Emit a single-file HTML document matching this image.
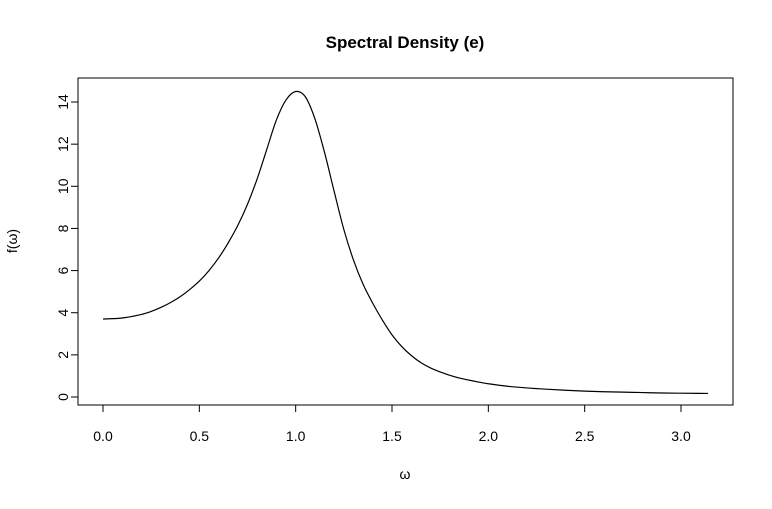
<!DOCTYPE html>
<html><head><meta charset="utf-8"><style>
html,body{margin:0;padding:0;background:#fff;}
svg text{font-family:"Liberation Sans",Arial,sans-serif;fill:#000;}
</style></head><body>
<svg id="chart" width="772" height="504" viewBox="0 0 772 504" xmlns="http://www.w3.org/2000/svg">
<rect width="772" height="504" fill="#fff"/>
<text x="405" y="48" text-anchor="middle" font-size="17" font-weight="bold">Spectral Density (e)</text>
<rect x="78" y="78" width="655" height="327" fill="none" stroke="#000" stroke-width="1"/>
<g id="xaxis"></g>
<g id="yaxis"></g>
<text x="405" y="479" text-anchor="middle" font-size="14" font-family="Liberation Serif,serif">ω</text>
<text transform="translate(17,241) rotate(-90)" text-anchor="middle" font-size="14">f(ω)</text>
<path id="curve" fill="none" stroke="#000" stroke-width="1.2"/>
</svg>
<script>
const omega = [0,0.1,0.2,0.25,0.3,0.35,0.4,0.45,0.5,0.55,0.6,0.65,0.7,0.75,0.8,0.85,0.9,0.95,1.0,1.05,1.1,1.15,1.2,1.25,1.3,1.35,1.4,1.45,1.5,1.55,1.6,1.65,1.7,1.75,1.8,1.85,1.9,1.95,2.0,2.1,2.2,2.3,2.4,2.5,2.6,2.7,2.8,2.9,3.0,3.14];
const density = [3.7,3.75,3.92,4.06,4.25,4.48,4.76,5.1,5.5,6.0,6.6,7.32,8.15,9.15,10.35,11.75,13.15,14.1,14.5,14.25,13.2,11.6,9.75,7.95,6.5,5.35,4.45,3.65,2.95,2.4,1.97,1.63,1.38,1.19,1.03,0.9,0.8,0.71,0.63,0.51,0.43,0.37,0.32,0.28,0.25,0.23,0.21,0.19,0.18,0.17];
const xTicks = [0,0.5,1,1.5,2,2.5,3];
const xTickLabels = ["0.0","0.5","1.0","1.5","2.0","2.5","3.0"];
const yTicks = [0,2,4,6,8,10,12,14];
const yTickLabels = ["0","2","4","6","8","10","12","14"];
const sx = v => 103 + v*192.67;
const sy = v => 397 - v*21.07;
const NS="http://www.w3.org/2000/svg";
const xa=document.getElementById('xaxis'), ya=document.getElementById('yaxis');
function mk(tag,attrs,parent){const e=document.createElementNS(NS,tag);for(const k in attrs)e.setAttribute(k,attrs[k]);parent.appendChild(e);return e;}
mk('line',{x1:sx(0),x2:sx(3),y1:405,y2:405,stroke:'#000'},xa);
xTicks.forEach((t,i)=>{
  const l=mk('line',{x1:sx(t),x2:sx(t),y1:405,y2:412,stroke:'#000'},xa);
  
  
  const tx=mk('text',{x:sx(t),y:441,'text-anchor':'middle','font-size':'14'},xa);
  tx.textContent=xTickLabels[i];
  
  
});
mk('line',{x1:78,x2:78,y1:sy(0),y2:sy(14),stroke:'#000'},ya);
yTicks.forEach((t,i)=>{
  const l=mk('line',{x1:71,x2:78,y1:sy(t),y2:sy(t),stroke:'#000'},ya);
  
  
  const tx=mk('text',{transform:`translate(68,${sy(t)}) rotate(-90)`,'text-anchor':'middle','font-size':'14'},ya);
  tx.textContent=yTickLabels[i];
  
  
});
const pts=omega.map((w,i)=>[sx(w),sy(density[i])]);
let d=`M${pts[0][0]},${pts[0][1]}`;
for(let i=0;i<pts.length-1;i++){
  const p0=pts[Math.max(0,i-1)],p1=pts[i],p2=pts[i+1],p3=pts[Math.min(pts.length-1,i+2)];
  const h=p2[0]-p1[0];
  const m1=(p2[1]-p0[1])/(p2[0]-p0[0]||1), m2=(p3[1]-p1[1])/(p3[0]-p1[0]||1);
  const c1=[p1[0]+h/3,p1[1]+m1*h/3];
  const c2=[p2[0]-h/3,p2[1]-m2*h/3];
  d+=` C${c1[0]},${c1[1]} ${c2[0]},${c2[1]} ${p2[0]},${p2[1]}`;
}
document.getElementById('curve').setAttribute('d',d);
</script>
</body></html>
